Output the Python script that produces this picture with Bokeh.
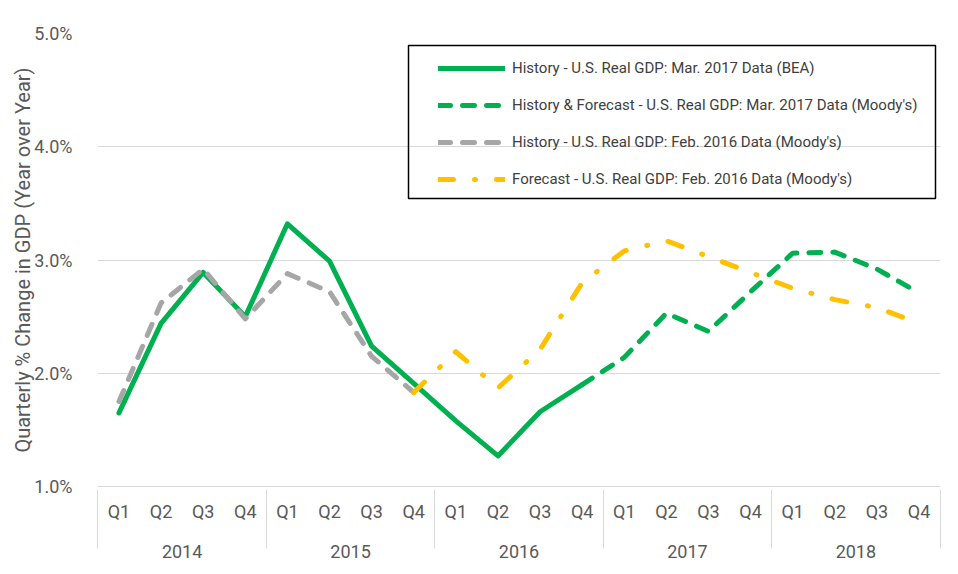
from bokeh.plotting import figure
from bokeh.models import (FactorRange, Range1d, Legend, LegendItem, PrintfTickFormatter,
                          FixedTicker, BoxAnnotation)
from bokeh.embed import file_html
from bokeh.resources import INLINE

years = ["2014", "2015", "2016", "2017", "2018"]
quarters = ["Q1", "Q2", "Q3", "Q4"]
# middle level is a blank spacer between the quarter row and the year row
factors = [(y, " ", q) for y in years for q in quarters]

# History - U.S. Real GDP: Mar. 2017 Data (BEA), 2014Q1-2016Q4
bea_x = factors[0:12]
bea = [1.65, 2.44, 2.89, 2.50, 3.32, 2.99, 2.24, 1.91, 1.58, 1.27, 1.66, 1.90]

# History & Forecast - Mar. 2017 Data (Moody's), 2016Q4-2018Q4
m17_x = factors[11:20]
m17 = [1.90, 2.14, 2.53, 2.37, 2.72, 3.06, 3.07, 2.92, 2.71]

# History - Feb. 2016 Data (Moody's), 2014Q1-2015Q4
h16_x = factors[0:8]
h16 = [1.75, 2.62, 2.92, 2.48, 2.88, 2.72, 2.15, 1.83]

# Forecast - Feb. 2016 Data (Moody's), 2015Q4-2018Q4
f16_x = factors[7:20]
f16 = [1.83, 2.19, 1.87, 2.21, 2.80, 3.08, 3.17, 3.03, 2.89, 2.75, 2.65, 2.58, 2.44]

labels = ["History - U.S. Real GDP: Mar. 2017 Data (BEA)",
          "History & Forecast - U.S. Real GDP: Mar. 2017 Data (Moody's)",
          "History - U.S. Real GDP: Feb. 2016 Data (Moody's)",
          "Forecast - U.S. Real GDP: Feb. 2016 Data (Moody's)"]

FONT = "Roboto, sans-serif"
GREEN = "#00b050"
GRAY = "#a6a6a6"
YELLOW = "#ffc000"
TXT = "#595959"
GRID = "#d9d9d9"

W, H = 958, 574
BL, BR, BT, BB = 97, 18, 33, 88

# blank edge groups (outside the visible range) so that the axis draws
# separator lines at both outer edges of the category box as well
all_factors = [(" ", " ", " ")] + factors + [("  ", " ", " ")]
xr = FactorRange(*all_factors, factor_padding=0, subgroup_padding=0, group_padding=0,
                 range_padding=-0.99, range_padding_units="absolute")
p = figure(width=W, height=H, x_range=xr, y_range=Range1d(1, 5),
           output_backend="svg", toolbar_location=None,
           min_border_left=BL, min_border_right=BR, min_border_top=BT, min_border_bottom=BB)
p.outline_line_color = None

r1 = p.line(bea_x, bea, line_color=GREEN, line_width=5, line_join="round", line_cap="round")
r2 = p.line(m17_x, m17, line_color=GREEN, line_width=5, line_join="round", line_cap="round",
            line_dash="12 12")
r3 = p.line(h16_x, h16, line_color=GRAY, line_width=5, line_join="round", line_cap="round",
            line_dash="12 12")
r4 = p.line(f16_x, f16, line_color=YELLOW, line_width=5, line_join="round", line_cap="round",
            line_dash="15 21 1 21")

# y axis
p.yaxis.ticker = FixedTicker(ticks=[1, 2, 3, 4, 5])
p.yaxis.formatter = PrintfTickFormatter(format="%.1f%%")
p.yaxis.axis_line_color = None
p.yaxis.major_tick_line_color = None
p.yaxis.minor_tick_line_color = None
p.yaxis.major_label_text_font = FONT
p.yaxis.major_label_text_font_size = "18px"
p.yaxis.major_label_text_color = TXT
p.yaxis.major_label_standoff = 19
p.yaxis.axis_label = "Quarterly % Change in GDP (Year over Year)"
p.yaxis.axis_label_text_font = FONT
p.yaxis.axis_label_text_font_size = "20px"
p.yaxis.axis_label_text_font_style = "normal"
p.yaxis.axis_label_text_color = TXT
p.yaxis.axis_label_standoff = -4

p.ygrid.grid_line_color = GRID
p.ygrid.grid_line_width = 1
p.xgrid.grid_line_color = None

# x axis
p.xaxis.axis_line_color = GRID
p.xaxis.major_tick_line_color = None
p.xaxis.minor_tick_line_color = None
p.xaxis.major_label_text_font = FONT
p.xaxis.major_label_text_font_size = "18px"
p.xaxis.major_label_text_color = TXT
p.xaxis.major_label_standoff = 8
p.xaxis.subgroup_text_font = FONT
p.xaxis.subgroup_text_font_size = "1px"
p.xaxis.subgroup_text_color = TXT
p.xaxis.group_text_font = FONT
p.xaxis.group_text_font_size = "18px"
p.xaxis.group_text_color = TXT
p.xaxis.group_text_font_style = "normal"
p.xaxis.separator_line_color = GRID
p.xaxis.separator_line_width = 1

# legend
legend = Legend(items=[LegendItem(label=labels[i], renderers=[r]) for i, r in enumerate([r1, r2, r3, r4])],
                location=(341, 297), padding=0, margin=0,
                glyph_width=67, glyph_height=20, label_height=20, spacing=17, label_standoff=7,
                label_text_font=FONT, label_text_font_size="15px", label_text_color="#404040",
                border_line_color=None, background_fill_alpha=0)
p.add_layout(legend, "center")
p.add_layout(BoxAnnotation(left=311, right=838, bottom=288, top=441,
                           left_units="screen", right_units="screen",
                           bottom_units="screen", top_units="screen",
                           fill_alpha=0, line_color="black", line_width=1.5, line_alpha=1))

open("out.html", "w").write(file_html(p, INLINE))
